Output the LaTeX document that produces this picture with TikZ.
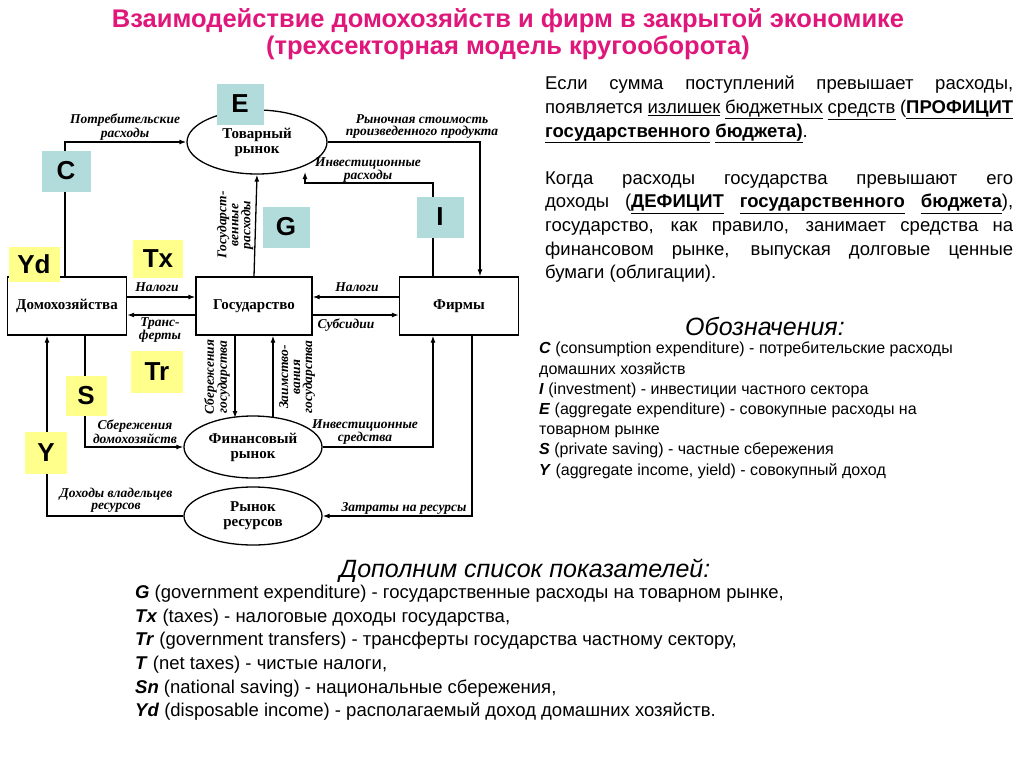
\documentclass[tikz,border=0pt]{standalone}
\usepackage{fontspec}
\setmainfont{Liberation Sans}
\newfontfamily\dserif{Liberation Serif}
\usetikzlibrary{shapes.geometric,arrows.meta}
\definecolor{ttl}{HTML}{E0177A}
\definecolor{lblue}{HTML}{B2DCDC}
\definecolor{lyel}{HTML}{FFFF8C}
\newcommand{\ul}[1]{\underline{#1}}
\begin{document}
\begin{tikzpicture}[x=1pt,y=-1pt,
  box/.style={draw,line width=1.3pt,minimum width=119pt,minimum height=58pt,font=\dserif\bfseries\fontsize{15}{16}\selectfont},
  mkt/.style={draw,line width=1.3pt,ellipse,inner sep=0pt,minimum width=140pt,minimum height=64pt,align=center,font=\dserif\bfseries\fontsize{15}{15}\selectfont},
  lab/.style={font=\dserif\bfseries\itshape\fontsize{13.5}{12}\selectfont,align=center,inner sep=1pt},
  fl/.style={line width=1.3pt,-{Latex[length=7pt,width=5pt]}},
  bl/.style={fill=lblue,minimum width=47pt,minimum height=41pt,font=\bfseries\fontsize{26}{26}\selectfont},
  yl/.style={fill=lyel,minimum width=48pt,minimum height=38pt,font=\bfseries\fontsize{26}{26}\selectfont}]
\useasboundingbox (0,0) rectangle (1024,768);
\node[text=ttl,font=\bfseries\fontsize{25.5}{27}\selectfont,align=center] (title) at (508,34) {Взаимодействие домохозяйств и фирм в закрытой экономике\\(трехсекторная модель кругооборота)};
% boxes
\node[box] (hh) at (67,306) {Домохозяйства};
\node[box,minimum width=116pt] (gov) at (254,306) {Государство};
\node[box] (fr) at (459,306) {Фирмы};
\node[mkt] (gm) at (257,142) {Товарный\\рынок};
\node[mkt,minimum width=138pt,minimum height=62pt] (fm) at (253,447) {Финансовый\\рынок};
\node[mkt,minimum width=138pt,minimum height=58pt] (rm) at (253,516) {Рынок\\ресурсов};
% flows
\draw[fl] (hh.north -| 65,0) |- (gm.west);
\draw[fl] (gm.east) -| (fr.north -| 480,0);
\draw[fl] (fr.north -| 433,0) |- (305,183) -- (305,172);
\draw[fl] (gov.north) -- (gm.south);
\draw[fl] (hh.east |- 0,297) -- (gov.west |- 0,297);
\draw[fl] (gov.west |- 0,315) -- (hh.east |- 0,315);
\draw[fl] (fr.west |- 0,297) -- (gov.east |- 0,297);
\draw[fl] (gov.east |- 0,315) -- (fr.west |- 0,315);
\draw[fl] (gov.south -| 235,0) -- (235,418);
\draw[fl] (273,418) -- (gov.south -| 273,0);
\draw[fl] (hh.south -| 85,0) |- (fm.west);
\draw[fl] (fm.east) -| (fr.south -| 433,0);
\draw[fl] (fr.south -| 472,0) |- (rm.east);
\draw[fl] (rm.west) -| (hh.south -| 47,0);
% labels
\node[lab] (l1) at (125,127) {Потребительские\\расходы};
\node[lab] (l2) at (422,127) {Рыночная стоимость\\произведенного продукта};
\node[lab] (l3) at (368,170) {Инвестиционные\\расходы};
\node[lab,rotate=90] (l4) at (235,225) {Государст-\\венные\\расходы};
\node[lab] (l5) at (157,287) {Налоги};
\node[lab] (l6) at (160,330) {Транс-\\ферты};
\node[lab] (l7) at (357,287) {Налоги};
\node[lab] (l8) at (346,325) {Субсидии};
\node[lab,rotate=90] (l9) at (217,377) {Сбережения\\государства};
\node[lab,rotate=90] (l10) at (297,377) {Заимство-\\вания\\государства};
\node[lab] (l11) at (135,432) {Сбережения\\домохозяйств};
\node[lab] (l12) at (365,432) {Инвестиционные\\средства};
\node[lab] (l13) at (116,500) {Доходы владельцев\\ресурсов};
\node[lab] (l14) at (404,508) {Затраты на ресурсы};
% letter tags
\node[bl] (tE) at (240,104) {E};
\node[bl,minimum width=49pt] (tC) at (66,171) {C};
\node[bl] (tG) at (286,227) {G};
\node[bl] (tI) at (440,217) {I};
\node[yl,minimum width=51pt,minimum height=35pt] (tYd) at (34,264) {Yd};
\node[yl,minimum width=50pt] (tTx) at (158,259) {Tx};
\node[yl,minimum width=52pt,minimum height=42pt] (tTr) at (157,372) {Tr};
\node[yl,minimum width=41pt,minimum height=40pt] (tS) at (86,396) {S};
\node[yl,minimum width=42pt,minimum height=42pt] (tY) at (46,453) {Y};
% right text
\node[anchor=north west,inner sep=0pt,text width=468pt,align=justify,font=\fontsize{18.5}{23.6}\selectfont] (rt) at (545,76)
{Если сумма поступлений превышает расходы, появляется \ul{излишек} \ul{бюджетных} \ul{средств} (\textbf{\ul{ПРОФИЦИТ} \ul{государственного} \ul{бюджета)}}.\par\vspace{23.6pt}
Когда расходы государства превышают его доходы (\textbf{\ul{ДЕФИЦИТ} \ul{государственного} \ul{бюджета}}), государство, как правило, занимает средства на финансовом рынке, выпуская долговые ценные бумаги (облигации).};
\node[font=\itshape\fontsize{25}{25}\selectfont] (obz) at (765,326) {Обозначения:};
\node[anchor=north west,inner sep=0pt,align=left,font=\fontsize{16}{20.2}\selectfont] (leg) at (539,342)
{\textbf{\textit{C}} (consumption expenditure) - потребительские расходы\\домашних хозяйств\\
\textbf{\textit{I}} (investment) - инвестиции частного сектора\\
\textbf{\textit{E}} (aggregate expenditure) - совокупные расходы на\\товарном рынке\\
\textbf{\textit{S}} (private saving) - частные сбережения\\
\textbf{\textit{Y}} (aggregate income, yield) - совокупный доход};
\node[font=\itshape\fontsize{25}{25}\selectfont] (dop) at (525,571) {Дополним список показателей:};
\node[anchor=north west,inner sep=0pt,align=left,font=\fontsize{18.5}{23.6}\selectfont] (bot) at (135,585)
{\textbf{\textit{G}} (government expenditure) - государственные расходы на товарном рынке,\\
\textbf{\textit{Tx}} (taxes) - налоговые доходы государства,\\
\textbf{\textit{Tr}} (government transfers) - трансферты государства частному сектору,\\
\textbf{\textit{T}} (net taxes) - чистые налоги,\\
\textbf{\textit{Sn}} (national saving) - национальные сбережения,\\
\textbf{\textit{Yd}} (disposable income) - располагаемый доход домашних хозяйств.};
\end{tikzpicture}
\end{document}
